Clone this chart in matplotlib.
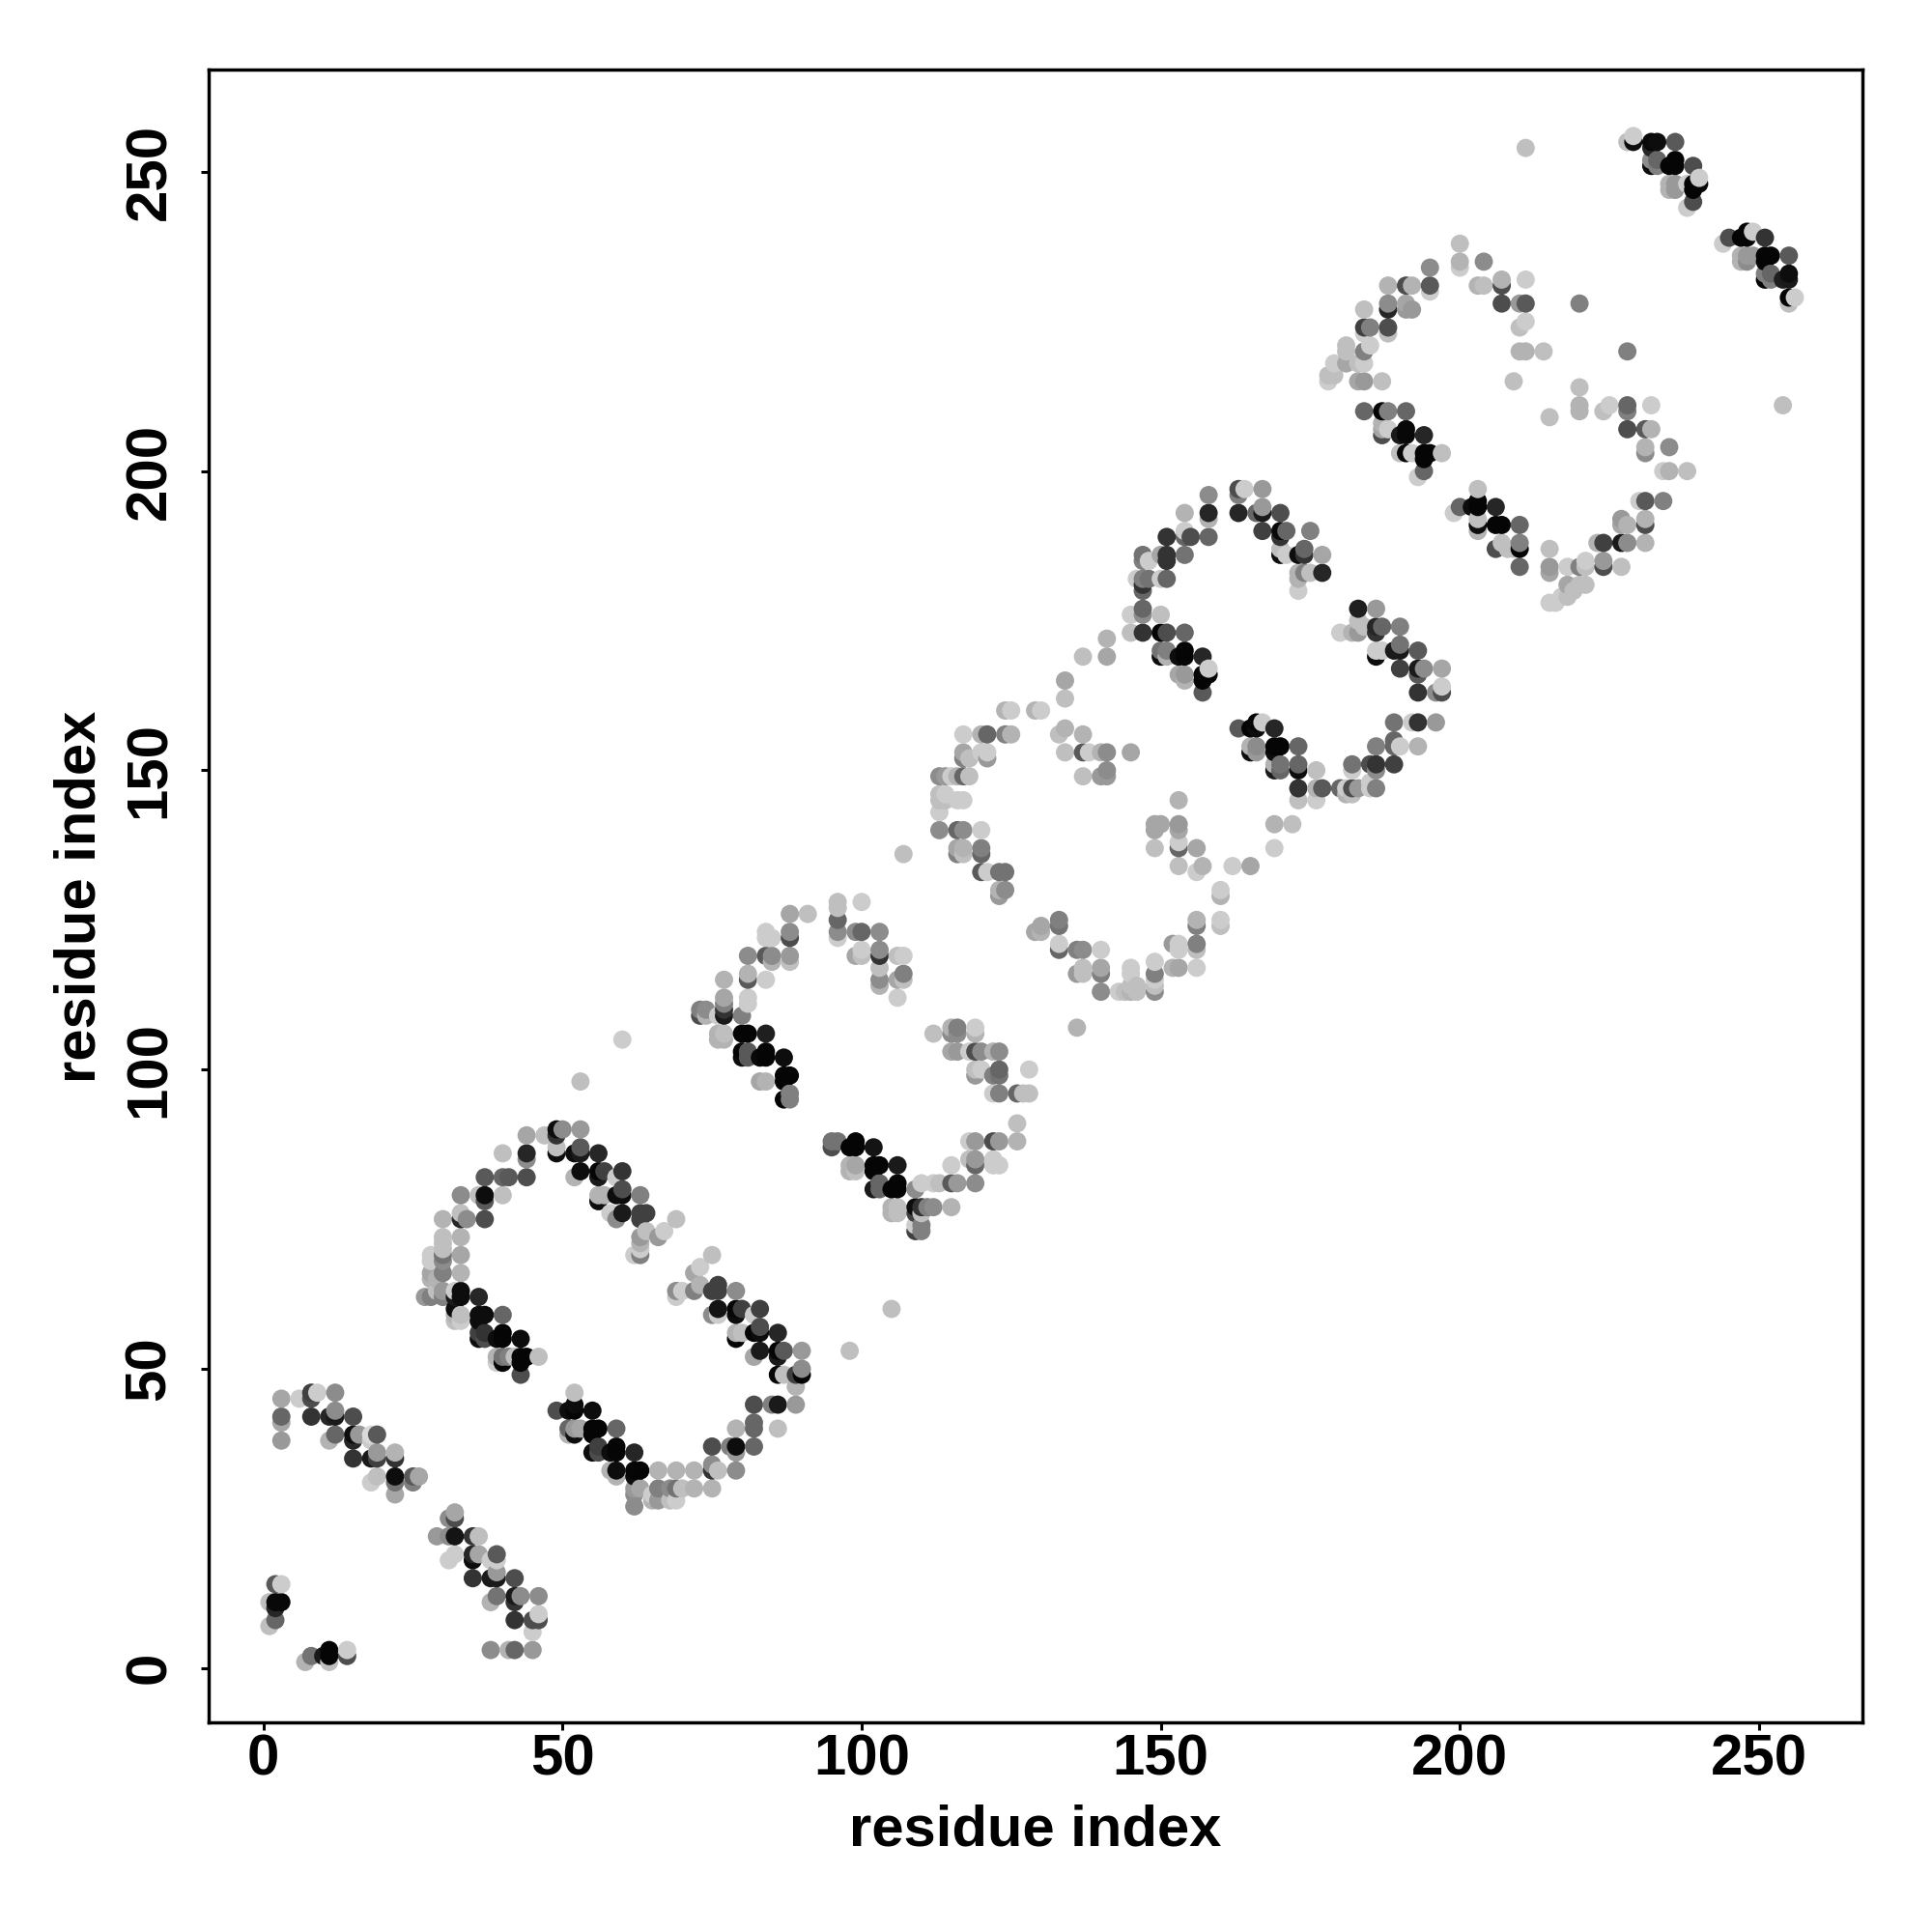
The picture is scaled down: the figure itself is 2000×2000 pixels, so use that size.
import numpy as np
import matplotlib
matplotlib.use("Agg")
import matplotlib.pyplot as plt

# each entry: residue i, residue j, grey level of the contact (0 black .. 1 white)
block_a = [(2,14,.35),(3,14,.8),(1,11,.75),(2,11,.03),(3,11,.03),(2,10,.15),(2,8,.4),(1,7,.75),
 (8,2,.45),(7,1,.7),(10,2,.1),(11,3,.02),(11,2,.02),(11,1,.75),(14,3,.8),(14,2,.3)]
block_b = [(3,45,.65),(3,42,.4),(3,41,.65),(3,38,.6),(6,45,.8),(8,46,.25),(8,45,.3),(9,46,.8),(12,46,.55),
 (8,42,.2),(11,42,.15),(12,43,.55),(12,42,.1),(15,42,.3),(11,38,.7),(12,39,.4),(15,39,.05),(15,38,.15),
 (16,39,.6),(18,39,.85),(18,38,.8),(19,39,.35),(15,35,.2),(18,35,.1),(19,36,.6),(19,35,.25),(22,36,.7),(22,35,.2),
 (18,31,.8),(19,32,.75),(22,32,.05),(22,31,.45),(22,29,.65),(25,32,.35),(25,31,.5),(26,32,.65)]
block_c = [(32,26,.65),(31,25,.55),(32,25,.3),(29,22,.6),(31,22,.55),(32,22,.08),(35,22,.2),(36,22,.75),
 (32,19,.8),(31,18,.8),(35,19,.15),(36,19,.65),(35,18,.05),(39,19,.35),(38,18,.8),(39,18,.8),(39,16,.6),(39,15,.1),
 (38,15,.1),(35,15,.2),(42,15,.3),(39,12,.45),(38,11,.7),(42,12,.1),(42,11,.2),(43,12,.55),(46,12,.55),
 (42,8,.2),(45,8,.3),(46,8,.3),(46,9,.8),(45,6,.8),(38,3,.55),(41,3,.7),(42,3,.4),(45,3,.6)]
block_d = [(49,90,.05),(50,90,.55),(53,90,.6),(47,89,.75),(44,89,.65),(49,89,.2),(49,86,.05),(49,87,.75),
 (52,86,.05),(53,87,.35),(53,86,.1),(56,86,.15),(44,86,.15),(44,85,.55),(40,86,.75),(37,82,.35),(40,82,.4),
 (41,82,.35),(44,82,.3),(33,79,.55),(36,79,.75),(37,78,.35),(37,79,.05),(40,79,.75),(33,76,.75),(30,75,.7),
 (33,75,.15),(34,75,.55),(37,75,.3),(30,72,.75),(33,72,.7),(30,71,.75),(30,70,.75),(28,69,.8),(30,69,.45),
 (33,69,.65),(30,68,.55),(28,68,.8),(28,66,.65),(30,66,.5),(33,66,.7),(28,65,.7),(29,65,.7),(27,62,.6),
 (29,63,.75),(30,63,.6),(30,62,.5),(28,62,.5),(33,63,.05),(33,62,.05),(32,63,.8),(32,62,.1),(36,62,.15)]
block_e = [(32,59,.7),(33,59,.75),(33,58,.8),(32,58,.75),(32,60,.05),(36,59,.05),(37,59,.05),(36,58,.05),(40,59,.4),
 (36,55,.05),(36,56,.25),(37,56,.2),(37,55,.3),(39,55,.05),(40,56,.02),(40,55,.02),(43,55,.05),
 (39,52,.7),(40,51,.02),(40,52,.45),(39,51,.8),(41,52,.5),(42,52,.75),(43,52,.02),(43,51,.02),(44,52,.02),(46,52,.75),(43,49,.3)]
block_f = [(52,46,.75),(49,43,.3),(51,43,.05),(52,44,.05),(52,43,.02),(55,43,.05),(51,40,.4),(52,40,.6),(53,40,.65),
 (51,39,.7),(52,39,.05),(55,40,.02),(56,40,.02),(55,39,.02),(59,40,.4),(55,36,.05),(56,37,.25),(56,36,.3),(58,36,.05),
 (59,37,.02),(59,36,.02),(62,36,.15),(58,33,.7),(59,33,.05),(59,32,.7),(62,33,.02),(63,33,.02),(62,32,.05),(66,33,.7),(69,33,.7),
 (72,33,.7),(75,34,.55),(75,33,.2),(76,33,.75),(79,33,.55),(62,30,.6),(62,29,.55),(62,27,.55),(63,30,.65),(65,29,.8),
 (66,30,.5),(66,28,.6),(65,28,.7),(68,30,.55),(69,30,.45),(70,30,.75),(72,30,.7),(75,30,.7),(68,28,.75),(69,28,.8)]
block_g = [(75,37,.3),(78,37,.5),(79,37,.05),(79,36,.6),(82,37,.4),(79,40,.7),(82,41,.4),(82,40,.4),(86,40,.75),
 (82,44,.3),(85,44,.5),(86,44,.1),(89,44,.6),(89,47,.7),(86,49,.02),(87,49,.75),(89,49,.25),(90,49,.02),(90,50,.55),
 (90,53,.6),(87,53,.35),(86,53,.02),(86,52,.1),(83,53,.1),(82,52,.65),(86,56,.15),(83,56,.05),(83,57,.3),(82,56,.02),
 (79,55,.02),(79,56,.7),(80,56,.75),(83,60,.25),(82,59,.8),(79,60,.02),(80,60,.25),(79,59,.05),(76,60,.08),(75,59,.55),
 (76,59,.8),(79,63,.55),(76,64,.25),(76,63,.25),(75,63,.25),(73,64,.7),(73,67,.8),(72,66,.65),(75,69,.75),(72,63,.5),
 (69,63,.55),(70,63,.8),(69,62,.8)]
block_h = [(69,75,.75),(67,73,.8),(66,72,.6),(64,73,.75),(63,76,.25),(64,76,.25),(63,75,.25),(63,79,.5),(63,72,.6),
 (63,71,.7),(63,69,.5),(62,69,.8),(63,70,.8),(60,76,.1),(59,75,.55),(58,76,.8),(60,80,.3),(60,79,.05),(59,79,.05),
 (60,83,.2),(59,82,.8),(56,83,.02),(57,83,.25),(56,82,.1),(53,83,.05),(52,82,.7),(56,78,.05),(56,79,.7),(57,79,.7)]
block_i = [(73,110,.5),(74,110,.55),(73,109,.3),(74,109,.7),(77,112,.65),(77,115,.7),(77,111,.5),(77,110,.2),(77,109,.1),
 (76,109,.8),(80,109,.5),(81,112,.8),(81,111,.8),(81,115,.35),(81,116,.7),(81,119,.55),(84,123,.8),(85,122,.8),(84,122,.8),
 (88,126,.65),(91,126,.75),(88,123,.55),(88,122,.3),(84,119,.35),(85,119,.55),(85,118,.7),(88,119,.6),(88,118,.75),(84,115,.8),
 (80,106,.02),(81,106,.02),(84,106,.12),(76,106,.7),(77,106,.75),(76,105,.7),(77,105,.7),(80,103,.02),(81,103,.35),(80,102,.05),
 (81,102,.35),(83,102,.03),(84,103,.02),(84,102,.02),(87,102,.05),(83,98,.65),(84,98,.7),(87,99,.02),(88,99,.02),(87,98,.02),
 (87,95,.02),(88,96,.5),(88,95,.5)]
block_j = [(96,128,.75),(96,127,.75),(96,125,.4),(100,128,.8),(96,123,.55),(96,122,.8),(99,123,.55),(100,123,.4),(103,123,.55),
 (99,119,.65),(100,120,.8),(100,119,.75),(103,120,.55),(103,119,.2),(103,117,.75),(106,119,.75),(107,119,.8),(103,115,.55),
 (103,114,.7),(106,115,.65),(107,116,.5),(107,115,.75),(106,112,.8)]
block_k = [(112,106,.75),(115,107,.7),(116,107,.5),(115,106,.55),(116,106,.55),(119,107,.8),(119,106,.7),(115,103,.65),(116,103,.6),
 (119,103,.3),(118,103,.8),(120,103,.55),(122,103,.7),(123,103,.55),(119,100,.75),(120,100,.8),(119,99,.6),(123,100,.4),
 (123,99,.45),(122,99,.5),(128,100,.8),(122,96,.8),(123,96,.5),(126,96,.4),(127,96,.75),(128,96,.75),(126,91,.75),(126,88,.7),
 (123,88,.6),(122,88,.3),(119,88,.6),(118,88,.8),(119,85,.6),(118,85,.75),(119,84,.4),(122,85,.8),(123,84,.8),(122,84,.8),(115,84,.8),
 (119,81,.55),(116,81,.6),(115,81,.35),(113,81,.75),(112,81,.8),(110,81,.8),(109,80,.55)]
block_l = [(95,88,.45),(96,88,.45),(95,87,.3),(98,87,.02),(99,88,.02),(99,87,.02),(102,87,.08),(98,84,.7),(99,84,.65),(98,83,.7),
 (99,83,.75),(102,84,.02),(103,84,.02),(102,83,.02),(106,84,.1),(102,80,.1),(103,81,.4),(103,80,.4),(105,80,.02),(106,81,.02),
 (106,80,.02),(105,77,.7),(106,77,.75),(106,76,.75),(105,76,.7),(109,77,.05),(110,77,.2),(111,77,.5),(112,77,.55),(115,77,.7),
 (109,76,.25),(110,76,.75),(109,74,.8),(110,74,.5),(110,73,.5),(109,73,.25)]
block_m = [(134,165,.65),(134,162,.75),(124,160,.7),(125,160,.8),(129,160,.7),(130,160,.8),(117,156,.8),(120,156,.7),(121,156,.4),
 (124,156,.5),(125,156,.7),(133,156,.75),(134,157,.7),(137,156,.7),(117,153,.65),(118,152,.75),(117,152,.5),(120,153,.8),
 (121,153,.8),(121,152,.6),(134,153,.75),(137,153,.35),(138,153,.8),(140,153,.7),(141,153,.55),(145,153,.65),(113,149,.55),
 (114,149,.6),(115,149,.8),(116,149,.7),(117,149,.4),(118,149,.75),(137,149,.75),(140,149,.6),(141,150,.55),(141,149,.6),
 (113,146,.75),(114,146,.8),(113,145,.75),(114,145,.75),(116,145,.8),(117,145,.8),(113,143,.8),(113,140,.55),(116,140,.4),
 (117,140,.55),(120,140,.8),(116,137,.65),(117,137,.7),(116,136,.5),(117,136,.75),(120,137,.5),(120,136,.4),(120,133,.35),
 (121,133,.8),(123,133,.45),(124,133,.45),(124,130,.55),(123,130,.7),(123,129,.6),(137,169,.75),(141,172,.7),(141,169,.65)]
block_n = [(153,145,.7),(149,141,.65),(150,141,.65),(149,140,.65),(153,141,.6),(153,140,.65),(149,137,.75),(153,138,.8),(153,137,.4),
 (156,137,.65),(153,134,.75),(156,133,.8),(157,134,.7),(162,134,.8),(165,134,.65),(169,141,.7),(172,141,.75),(169,137,.8),
 (160,130,.8),(160,129,.7),(160,125,.8),(160,124,.75),(156,125,.7),(156,124,.5),(156,121,.5),(156,120,.75),(156,117,.8),
 (152,121,.6),(153,121,.8),(153,120,.8),(152,117,.7),(153,117,.65),(149,118,.8),(149,116,.5),(149,115,.8),(149,114,.75),(149,113,.55),
 (145,117,.8),(145,116,.8),(140,117,.65),(140,116,.5),(140,113,.55),(143,113,.8),(144,113,.75),(145,113,.7),(146,113,.75),(145,114,.75),
 (146,114,.75),(136,120,.5),(137,120,.55),(140,120,.8),(137,117,.75),(136,116,.6),(137,116,.75),(133,124,.45),(133,125,.5),
 (130,124,.65),(129,123,.65),(130,123,.7),(133,121,.8),(133,120,.4),(136,107,.7)]
block_o = [(158,196,.55),(154,193,.7),(158,193,.15),(158,192,.7),(151,189,.2),(154,190,.8),(155,189,.3),(154,189,.4),(158,189,.4),
 (147,186,.45),(148,185,.8),(147,185,.5),(150,186,.65),(151,186,.2),(151,185,.2),(154,186,.45),(146,182,.8),(147,182,.5),(148,182,.45),
 (150,182,.8),(151,182,.4),(147,181,.2),(147,180,.4),(145,176,.8),(147,177,.4),(147,176,.55),(150,176,.75),(145,173,.75),(147,173,.2),
 (150,173,.02),(151,173,.3),(154,173,.4),(150,170,.45),(151,170,.5),(150,169,.05),(151,169,.7),(153,169,.05),(154,170,.02),(154,169,.02),
 (157,169,.15),(153,166,.65),(154,166,.6),(154,165,.7),(157,166,.02),(158,167,.8),(158,166,.02),(157,165,.02),(157,163,.35)]
block_p = [(163,197,.3),(163,196,.5),(164,197,.8),(167,197,.6),(163,193,.15),(166,193,.4),(167,194,.6),(167,193,.1),(170,193,.3),
 (167,190,.25),(170,190,.03),(171,190,.4),(170,189,.2),(175,190,.5),(170,187,.75),(171,186,.8),(170,186,.05),(173,186,.05),(174,187,.4),
 (174,186,.2),(177,186,.65),(173,183,.7),(174,183,.5),(175,183,.75),(177,183,.15),(173,182,.7),(173,180,.8)]
block_q = [(183,177,.12),(186,177,.6),(183,175,.75),(183,173,.6),(184,174,.75),(180,173,.8),(182,173,.7),(186,174,.15),(187,174,.4),
 (186,173,.2),(190,174,.5),(186,170,.8),(187,170,.8),(186,169,.05),(189,170,.1),(190,171,.45),(190,170,.1),(193,170,.35),(190,167,.25),
 (193,167,.1),(194,167,.55),(197,167,.65),(193,166,.35),(193,163,.2),(196,163,.55),(197,164,.8),(197,163,.3)]
block_r = [(163,157,.35),(165,157,.02),(166,158,.02),(167,158,.8),(166,157,.05),(169,157,.15),(165,154,.7),(166,154,.55),(166,153,.6),
 (165,153,.05),(169,154,.02),(170,154,.02),(169,153,.05),(173,154,.4),(169,151,.7),(170,151,.45),(169,150,.1),(170,150,.4),
 (173,151,.4),(173,150,.05),(176,150,.75),(173,147,.2),(173,145,.75),(176,145,.8),(176,147,.7),(177,147,.35),(180,147,.4),(181,147,.8),
 (182,147,.3),(183,147,.6),(182,146,.75),(181,146,.7),(185,147,.8),(186,147,.5),(185,148,.8),(182,151,.45),(182,150,.8),(185,151,.3),
 (186,151,.2),(186,150,.55),(189,151,.25),(186,154,.5),(189,155,.4),(189,154,.4),(190,154,.8),(193,154,.7),(189,158,.45),(192,158,.8),
 (193,158,.2),(196,158,.6)]
block_s = [(195,234,.55),(195,231,.35),(195,230,.8),(188,231,.7),(191,231,.3),(192,231,.7),(188,228,.55),(188,227,.15),(191,228,.65),
 (192,227,.6),(191,227,.6),(184,227,.75),(184,224,.25),(185,224,.5),(188,224,.3),(188,223,.75),(184,223,.8),(185,221,.8),(184,220,.5),
 (181,221,.75),(181,220,.75),(181,218,.65),(184,218,.8),(183,218,.75),(179,218,.8),(179,216,.75),(178,216,.75),(178,215,.8),
 (183,215,.65),(184,215,.6),(187,215,.75)]
block_t = [(200,238,.75),(200,235,.7),(200,234,.8),(204,235,.55),(203,231,.7),(204,231,.75),(207,232,.7),(207,231,.3),(211,232,.8),
 (207,228,.3),(210,228,.6),(211,228,.35),(220,228,.5),(211,225,.8),(210,224,.75),(210,220,.7),(211,220,.7),(214,220,.75),(228,220,.5),
 (209,215,.75),(220,214,.75),(220,211,.7),(220,210,.7),(215,209,.75),(224,210,.75),(225,211,.8),(228,211,.4),(228,210,.5),(232,211,.8),
 (228,207,.3),(231,207,.35),(232,207,.7),(231,204,.7),(231,203,.55),(235,204,.55),(234,200,.8),(235,200,.7),(238,200,.75),
 (211,254,.75),(254,211,.75)]
block_u = [(230,195,.8),(231,195,.35),(234,195,.5),(227,192,.6),(228,191,.7),(227,191,.65),(231,192,.7),(231,191,.3),(228,188,.55),
 (227,188,.1),(231,188,.7),(224,188,.25),(223,188,.7),(224,185,.6),(224,184,.3),(227,184,.75),(221,185,.8),(220,184,.5),(221,184,.75),
 (218,184,.8),(215,187,.75),(215,184,.6),(215,183,.65),(218,181,.65),(220,181,.75),(221,181,.75),(218,179,.75),(217,179,.8),(216,178,.8),
 (215,178,.8),(219,180,.75)]
block_v = [(184,210,.4),(187,210,.02),(188,210,.5),(191,210,.4),(187,208,.7),(188,207,.8),(187,207,.65),(187,206,.3),(190,206,.1),
 (191,207,.03),(191,206,.03),(194,206,.15),(190,203,.75),(191,203,.02),(192,203,.8),(194,203,.02),(195,203,.02),(197,203,.75),(194,202,.02),
 (194,200,.4),(193,199,.8),(203,197,.75),(203,195,.02),(200,194,.4),(199,193,.8),(202,194,.05),(203,194,.02),(206,194,.15),(203,192,.75),
 (203,190,.7),(203,191,.05),(206,191,.02),(207,191,.02),(210,191,.4),(206,187,.3),(207,188,.75),(209,187,.75),(210,188,.5),(210,187,.02),
 (210,184,.4),(208,187,.75)]
block_w = [(228,255,.75),(229,256,.8),(229,255,.05),(232,255,.03),(233,255,.05),(236,255,.35),(232,254,.15),(232,252,.55),(233,252,.4),
 (233,251,.5),(232,251,.05),(235,251,.02),(236,252,.02),(236,251,.02),(239,251,.3),(235,248,.7),(236,248,.6),(236,247,.6),(235,247,.7),
 (238,248,.8),(239,248,.02),(240,249,.8),(240,248,.02),(239,247,.02),(239,245,.3),(238,244,.8),(245,239,.3),(244,238,.8),(247,239,.02),
 (248,240,.02),(249,240,.8),(248,239,.02),(251,239,.2),(247,236,.7),(248,236,.6),(247,235,.7),(248,235,.55),(249,236,.6),(251,236,.02),
 (252,236,.02),(251,235,.02),(255,236,.35),(251,233,.5),(252,233,.4),(251,232,.02),(252,232,.5),(254,232,.12),(255,233,.05),(255,232,.1),
 (255,229,.02),(256,229,.8),(255,228,.75)]
block_x = [(60,105,.8),(53,98,.75),(98,53,.75),(105,60,.75),(107,136,.75)]

tick_values = [0, 50, 100, 150, 200, 250]
axis_title = "residue index"

blocks = [block_a, block_b, block_c, block_d, block_e, block_f, block_g, block_h, block_i, block_j, block_k, block_l,
          block_m, block_n, block_o, block_p, block_q, block_r, block_s, block_t, block_u, block_v, block_w, block_x]
pts = np.array([p for b in blocks for p in b], dtype=float)
order = np.lexsort((pts[:, 1], pts[:, 0]))
pts = pts[order]

plt.rcParams['font.family'] = ['Liberation Sans', 'DejaVu Sans']
plt.rcParams['font.weight'] = 'bold'

fig = plt.figure(figsize=(10, 10), dpi=200, facecolor='white')
ax = fig.add_axes([215.7/2000, 1-1783.3/2000, (1928-215.7)/2000, (1783.3-72)/2000])
ax.scatter(pts[:, 0], pts[:, 1], s=6.8**2, c=[str(g) for g in pts[:, 2]], linewidths=0, zorder=2)
ax.set_xlim(-9.2, 267.3)
ax.set_ylim(-9.14, 267.1)
ax.set_xticks(tick_values)
ax.set_yticks(tick_values)
ax.tick_params(axis='both', length=2.9, width=1.1, direction='out', color='black', labelsize=21.6)
ax.tick_params(axis='x', pad=1.3)
ax.tick_params(axis='y', pad=13.2)
for lab in ax.get_yticklabels():
    lab.set_rotation(90)
    lab.set_rotation_mode('anchor')
    lab.set_ha('center')
    lab.set_va('baseline')
for s in ax.spines.values():
    s.set_linewidth(1.25)
ax.set_xlabel(axis_title, fontsize=21.5, fontweight='bold', va='baseline')
ax.set_ylabel(axis_title, fontsize=21.5, fontweight='bold', va='baseline')
ax.xaxis.set_label_coords(0.5, -0.0746)
ax.yaxis.set_label_coords(-0.0686, 0.4995)
fig.savefig('out.png', dpi=200, facecolor='white')
